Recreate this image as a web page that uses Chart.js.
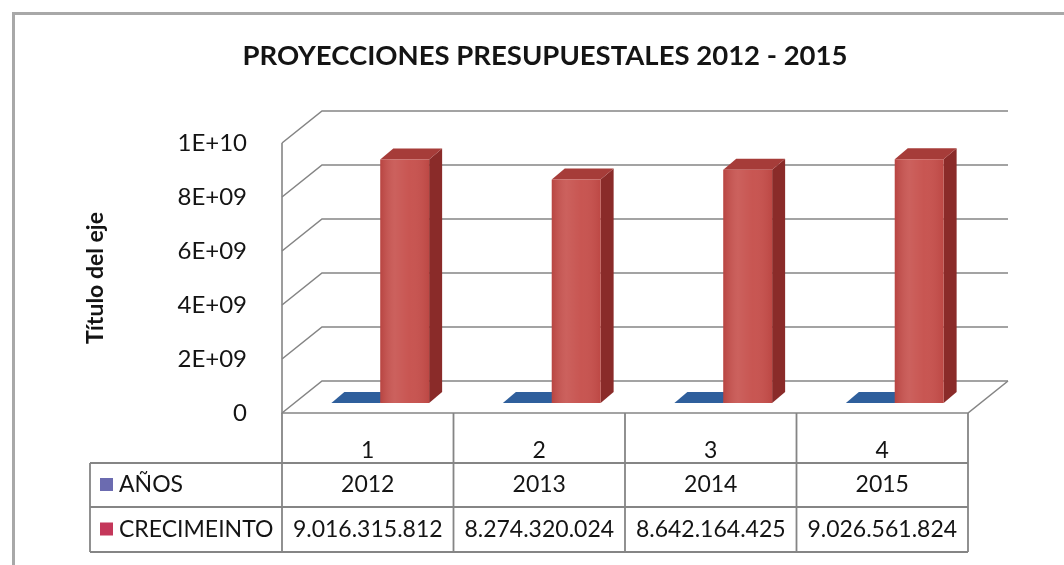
<!DOCTYPE html>
<html>
<head>
<meta charset="utf-8">
<title>Proyecciones presupuestales 2012 - 2015</title>
<script src="https://cdn.jsdelivr.net/npm/chart.js@4"></script>
<style>
  html, body { margin: 0; padding: 0; background: #fff; }
</style>
</head>
<body>
<canvas id="presupuesto" width="1064" height="565"></canvas>
<script>
const categories = ['1', '2', '3', '4'];
const seriesNames = ['AÑOS', 'CRECIMEINTO'];
const anos = [2012, 2013, 2014, 2015];
const crecimiento = [9016315812, 8274320024, 8642164425, 9026561824];
const yTicks = [0, 2e9, 4e9, 6e9, 8e9, 1e10];

// 3D look of the Excel chart: depth of the walls, and where the columns sit in it
const DEPTH_X = 40, DEPTH_Y = -32;
const BAR_DX = 12.5, BAR_DY = -10;
const BAR_DEPTH_X = 13, BAR_DEPTH_Y = -11;

const TEXT = '#141414';
const GRID = '#858585';
const faces = [
  { front: '#4f81bd', top: '#2f5f9c', side: '#24487a', key: '#6b6bb0' },
  { front: '#c64f4b', top: '#a63c39', side: '#8a2b29', key: '#c4375a' },
];

// 8E+09 style labels, like Excel
function sci(v) {
  if (v === 0) return '0';
  const [m, e] = Number(v).toExponential().split('e');
  const exp = Math.abs(+e);
  return m + 'E' + (+e < 0 ? '-' : '+') + String(exp).padStart(2, '0');
}

function miles(v) {
  return String(v).replace(/\B(?=(\d{3})+(?!\d))/g, '.');
}

const box3d = {
  id: 'box3d',
  beforeDraw(chart) {
    const { ctx, width, height } = chart;
    ctx.save();
    ctx.fillStyle = '#fff';
    ctx.fillRect(0, 0, width, height);
    // outer frame, only top and left show in the cropped picture
    ctx.strokeStyle = '#a8a8a8';
    ctx.lineWidth = 3;
    ctx.beginPath();
    ctx.moveTo(13.5, height);
    ctx.lineTo(13.5, 13.5);
    ctx.lineTo(width, 13.5);
    ctx.stroke();

    ctx.fillStyle = TEXT;
    ctx.font = 'bold 27.5px Lato';
    ctx.textAlign = 'center';
    ctx.textBaseline = 'middle';
    ctx.fillText('PROYECCIONES PRESUPUESTALES 2012 - 2015', 545, 56);
    ctx.restore();
  },
  beforeDatasetsDraw(chart) {
    const { ctx, chartArea: a, scales: { y } } = chart;
    ctx.save();
    ctx.strokeStyle = GRID;
    ctx.lineWidth = 1.6;

    // side wall diagonals + back wall gridlines
    yTicks.forEach(v => {
      const py = y.getPixelForValue(v);
      ctx.beginPath();
      ctx.moveTo(a.left, py);
      ctx.lineTo(a.left + DEPTH_X, py + DEPTH_Y);
      ctx.lineTo(a.right + DEPTH_X, py + DEPTH_Y);
      ctx.stroke();
    });

    // front edge of the side wall and the floor
    ctx.beginPath();
    ctx.moveTo(a.left, y.getPixelForValue(yTicks[yTicks.length - 1]));
    ctx.lineTo(a.left, a.bottom);
    ctx.lineTo(a.right, a.bottom);
    ctx.lineTo(a.right + DEPTH_X, a.bottom + DEPTH_Y);
    ctx.stroke();

    // top and right faces of every column, the front faces come from Chart.js
    chart.data.datasets.forEach((ds, i) => {
      chart.getDatasetMeta(i).data.forEach(bar => {
        const { x, y: top, base, width } = bar.getProps(['x', 'y', 'base', 'width'], true);
        const l = x - width / 2 + BAR_DX;
        const r = x + width / 2 + BAR_DX;
        const t = top + BAR_DY;
        const b = base + BAR_DY;

        ctx.fillStyle = faces[i].side;
        ctx.beginPath();
        ctx.moveTo(r, b);
        ctx.lineTo(r, t);
        ctx.lineTo(r + BAR_DEPTH_X, t + BAR_DEPTH_Y);
        ctx.lineTo(r + BAR_DEPTH_X, b + BAR_DEPTH_Y);
        ctx.closePath();
        ctx.fill();

        ctx.fillStyle = faces[i].top;
        ctx.beginPath();
        ctx.moveTo(l, t);
        ctx.lineTo(r, t);
        ctx.lineTo(r + BAR_DEPTH_X, t + BAR_DEPTH_Y);
        ctx.lineTo(l + BAR_DEPTH_X, t + BAR_DEPTH_Y);
        ctx.closePath();
        ctx.fill();
      });
    });

    // push the front faces back into the box
    ctx.translate(BAR_DX, BAR_DY);
  },
  afterDatasetsDraw(chart) {
    const { ctx } = chart;
    // soft shine on the front faces, still in the shifted space
    chart.getDatasetMeta(1).data.forEach(bar => {
      const { x, y: top, base, width } = bar.getProps(['x', 'y', 'base', 'width'], true);
      const l = x - width / 2;
      const g = ctx.createLinearGradient(l, 0, l + width, 0);
      g.addColorStop(0, 'rgba(120,20,20,0.18)');
      g.addColorStop(0.3, 'rgba(255,255,255,0.10)');
      g.addColorStop(0.6, 'rgba(255,255,255,0.04)');
      g.addColorStop(1, 'rgba(120,20,20,0.12)');
      ctx.fillStyle = g;
      ctx.fillRect(l, top, width, base - top);
    });
    ctx.restore();
  },
  afterDraw(chart) {
    // data table under the plot
    const { ctx, chartArea: a, scales: { x } } = chart;
    const colW = (a.right - a.left) / categories.length;
    const rows = [a.bottom, a.bottom + 50, a.bottom + 94, a.bottom + 139];
    const tableLeft = 90;

    ctx.save();
    ctx.strokeStyle = GRID;
    ctx.lineWidth = 1.8;
    ctx.beginPath();
    [1, 2, 3].forEach(k => {
      ctx.moveTo(tableLeft, rows[k]);
      ctx.lineTo(a.right, rows[k]);
    });
    categories.forEach((c, i) => {
      const px = x.getPixelForValue(i) - colW / 2;
      ctx.moveTo(px, a.bottom);
      ctx.lineTo(px, rows[3]);
    });
    ctx.moveTo(a.right, a.bottom);
    ctx.lineTo(a.right, rows[3]);
    ctx.moveTo(tableLeft, rows[1]);
    ctx.lineTo(tableLeft, rows[3]);
    ctx.stroke();

    ctx.font = '23px Lato';
    ctx.textBaseline = 'middle';
    const cells = [anos.map(String), crecimiento.map(miles)];
    cells.forEach((vals, r) => {
      const cy = (rows[r + 1] + rows[r + 2]) / 2;
      ctx.fillStyle = TEXT;
      ctx.textAlign = 'center';
      vals.forEach((v, i) => ctx.fillText(v, x.getPixelForValue(i), cy));

      ctx.fillStyle = faces[r].key;
      ctx.fillRect(100, cy - 7, 13, 13);
      ctx.fillStyle = TEXT;
      ctx.textAlign = 'left';
      ctx.fillText(seriesNames[r], 119, cy);
    });
    ctx.restore();
  },
};

new Chart(document.getElementById('presupuesto'), {
  type: 'bar',
  data: {
    labels: categories,
    datasets: [
      { label: seriesNames[0], data: anos, backgroundColor: faces[0].front, borderWidth: 0 },
      { label: seriesNames[1], data: crecimiento, backgroundColor: faces[1].front, borderWidth: 0 },
    ],
  },
  options: {
    responsive: false,
    animation: false,
    layout: { padding: { left: 82, right: 96, top: 143, bottom: 13 } },
    datasets: { bar: { categoryPercentage: 0.57, barPercentage: 1 } },
    plugins: {
      legend: { display: false },
      tooltip: { enabled: false },
      title: { display: false },
    },
    scales: {
      x: {
        grid: { display: false },
        border: { display: false },
        ticks: { font: { family: 'Lato', size: 23 }, color: TEXT, padding: 16 },
        afterFit(scale) {
          scale.height = 139;
        },
      },
      y: {
        min: 0,
        max: 1e10,
        afterBuildTicks(scale) {
          scale.ticks = yTicks.map(v => ({ value: v }));
        },
        grid: { display: false },
        border: { display: false },
        ticks: { callback: sci, padding: 27, font: { family: 'Lato', size: 24 }, color: TEXT },
        title: {
          display: true,
          text: 'Título del eje',
          font: { family: 'Lato', size: 23, weight: 'bold' },
          color: TEXT,
          padding: { top: 0, bottom: 0 },
        },
        afterFit(scale) {
          scale.width = 200;
        },
      },
    },
  },
  plugins: [box3d],
});
</script>
</body>
</html>
